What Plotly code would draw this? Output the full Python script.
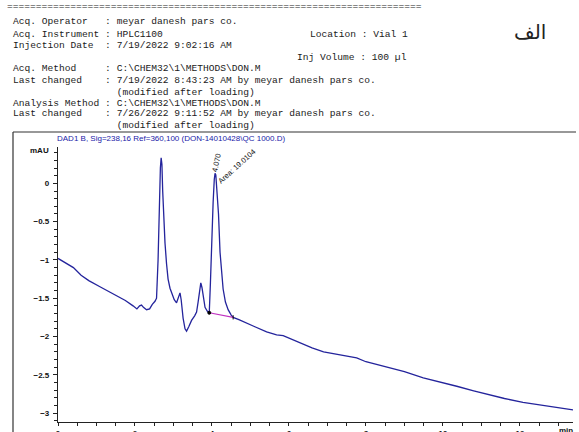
import plotly.graph_objects as go

# ---- data ----
time_min = [0, 0.1, 0.23, 0.4, 0.6, 0.8, 1.09, 1.3, 1.53, 1.75, 1.95, 2.05, 2.12, 2.17, 2.22, 2.3,
            2.38, 2.45, 2.52, 2.56, 2.60, 2.63, 2.66, 2.68, 2.70, 2.72, 2.75, 2.78, 2.82, 2.86,
            2.91, 2.95, 3.02, 3.08, 3.12, 3.15, 3.17, 3.2, 3.25, 3.30, 3.34, 3.40, 3.47, 3.55,
            3.60, 3.64, 3.68, 3.71, 3.74, 3.78, 3.82, 3.88, 3.93, 3.96, 3.99, 4.03, 4.06, 4.08,
            4.10, 4.13, 4.17, 4.21, 4.25, 4.29, 4.35, 4.42, 4.5, 4.55, 4.7, 4.9, 5.1, 5.42, 5.68,
            5.85, 6.03, 6.29, 6.6, 6.9, 7.2, 7.5, 7.76, 8.0, 8.3, 8.62, 9.0, 9.49, 10.0, 10.36,
            10.8, 11.2, 11.6, 12.08, 12.5, 12.95, 13.38]
signal_mau = [-0.98, -1.01, -1.04, -1.10, -1.20, -1.27, -1.35, -1.41, -1.47, -1.53, -1.60, -1.64,
              -1.60, -1.59, -1.62, -1.65, -1.64, -1.58, -1.54, -1.50, -1.0, -0.3, 0.2, 0.335, 0.25,
              -0.1, -0.5, -0.78, -1.05, -1.25, -1.37, -1.43, -1.52, -1.56, -1.50, -1.44, -1.43,
              -1.52, -1.76, -1.90, -1.93, -1.87, -1.79, -1.73, -1.68, -1.55, -1.36, -1.30, -1.36,
              -1.52, -1.62, -1.67, -1.69, -1.30, -0.74, -0.25, 0.05, 0.13, 0.11, -0.10, -0.40,
              -0.90, -1.20, -1.38, -1.55, -1.65, -1.72, -1.75, -1.78, -1.82, -1.87, -1.94, -1.98,
              -1.99, -2.03, -2.09, -2.15, -2.20, -2.23, -2.25, -2.28, -2.33, -2.37, -2.41, -2.46,
              -2.54, -2.60, -2.65, -2.71, -2.76, -2.81, -2.86, -2.89, -2.92, -2.96]
baseline_t = [3.93, 4.55]
baseline_v = [-1.69, -1.75]
peak_rt = "4.070"
peak_area = "Area: 19.0104"

header_lines = [
    "=" * 72,
    "Acq. Operator   : meyar danesh pars co.",
    "Acq. Instrument : HPLC1100",
    "Injection Date  : 7/19/2022 9:02:16 AM",
    "",
    "Acq. Method     : C:\\CHEM32\\1\\METHODS\\DON.M",
    "Last changed    : 7/19/2022 8:43:23 AM by meyar danesh pars co.",
    "                  (modified after loading)",
    "Analysis Method : C:\\CHEM32\\1\\METHODS\\DON.M",
    "Last changed    : 7/26/2022 9:11:52 AM by meyar danesh pars co.",
    "                  (modified after loading)",
]
location_text = "Location : Vial 1"
volume_text = "Inj Volume : 100 µl"
signal_title = "DAD1 B, Sig=238,16 Ref=360,100 (DON-14010428\\QC 1000.D)"
arabic_label = "الف"

# ---- layout geometry (pixels) ----
W, H = 579, 432
L, R, T, B = 58, 6, 147, 10
PW, PH = W - L - R, H - T - B


def px(x):
    return (x - L) / PW


def py(y):
    return (H - B - y) / PH


fig = go.Figure()
fig.add_trace(go.Scatter(x=time_min, y=signal_mau, mode="lines",
                         line=dict(color="#24249c", width=1.3), hoverinfo="skip"))
fig.add_trace(go.Scatter(x=baseline_t, y=baseline_v, mode="lines",
                         line=dict(color="#c030c0", width=1.1), hoverinfo="skip"))
fig.add_trace(go.Scatter(x=baseline_t, y=baseline_v, mode="markers",
                         marker=dict(color="black", size=3, symbol=["circle", "line-ns"],
                                     line=dict(color="black", width=1)),
                         hoverinfo="skip"))

mono = dict(family="Liberation Mono, Courier New, monospace", size=9.6, color="#1a1a1a")
ann = []
ys = [5, 21, 33, 44, 57, 68, 79, 91, 102, 113, 125]
for line, yy in zip(header_lines, ys):
    if not line:
        continue
    x0 = 5 if line.startswith("=") else 11
    ann.append(dict(text=line.replace(" ", "\u00a0"), x=px(x0), y=py(yy + 1), xref="paper", yref="paper",
                    xanchor="left", yanchor="middle", showarrow=False, font=mono))
ann.append(dict(text=location_text.replace(" ", "\u00a0"), x=px(308), y=py(34), xref="paper", yref="paper",
                xanchor="left", yanchor="middle", showarrow=False, font=mono))
ann.append(dict(text=volume_text.replace(" ", "\u00a0"), x=px(295), y=py(58), xref="paper", yref="paper",
                xanchor="left", yanchor="middle", showarrow=False, font=mono))
ann.append(dict(text=arabic_label, x=px(530), y=py(32), xref="paper", yref="paper",
                xanchor="center", yanchor="middle", showarrow=False,
                font=dict(family="DejaVu Sans, Noto Sans", size=20, color="#222")))
ann.append(dict(text=signal_title, x=px(171), y=py(138), xref="paper", yref="paper",
                xanchor="center", yanchor="middle", showarrow=False,
                font=dict(family="Liberation Sans, Arial", size=8, color="#1a1aa8")))
ann.append(dict(text="<b>mAU</b>", x=px(51), y=py(150), xref="paper", yref="paper",
                xanchor="right", yanchor="middle", showarrow=False,
                font=dict(family="Liberation Sans, Arial", size=8, color="#111")))
ann.append(dict(text="<b>min</b>", x=px(566), y=py(430), xref="paper", yref="paper",
                xanchor="center", yanchor="middle", showarrow=False,
                font=dict(family="Liberation Sans, Arial", size=8, color="#111")))
ann.append(dict(text=peak_rt, x=px(216), y=py(163), xref="paper", yref="paper",
                xanchor="center", yanchor="middle", showarrow=False, textangle=-78,
                font=dict(family="Liberation Sans, Arial", size=7.5, color="#111")))
ann.append(dict(text=peak_area, x=px(236.5), y=py(166), xref="paper", yref="paper",
                xanchor="center", yanchor="middle", showarrow=False, textangle=-42,
                font=dict(family="Liberation Sans, Arial", size=7.5, color="#111")))

shapes = [
    dict(type="line", xref="paper", yref="paper", x0=px(13), x1=px(576), y0=py(132), y1=py(132),
         line=dict(color="#333", width=1.2)),
    dict(type="line", xref="paper", yref="paper", x0=px(13), x1=px(13), y0=py(132), y1=py(450),
         line=dict(color="#333", width=1.2)),
]

tickfont = dict(family="Liberation Sans, Arial", size=8, color="#111", weight="bold")
fig.update_layout(
    width=W, height=H, margin=dict(l=L, r=R, t=T, b=B, autoexpand=False),
    paper_bgcolor="white", plot_bgcolor="white", showlegend=False,
    annotations=ann, shapes=shapes,
    xaxis=dict(range=[0, 13.38], showgrid=False, zeroline=False, showline=True,
               linecolor="#222", linewidth=1.2, ticks="outside", ticklen=3, tickcolor="#222",
               dtick=2, tick0=0, tickfont=tickfont, automargin=False,
               minor=dict(dtick=0.5, ticks="outside", ticklen=2.5, tickcolor="#222", showgrid=False)),
    yaxis=dict(range=[-3.117, 0.475], showgrid=False, zeroline=False, showline=True,
               linecolor="#222", linewidth=1.2, ticks="outside", ticklen=4, tickcolor="#222",
               dtick=0.5, tick0=0, tickfont=tickfont, ticklabelstandoff=2, automargin=False,
               minor=dict(dtick=0.1, ticks="outside", ticklen=2.5, tickcolor="#222", showgrid=False)),
)

fig.write_html("out.html", config={"displayModeBar": False},
               post_script="document.body.style.margin='0';document.body.style.padding='0';")
